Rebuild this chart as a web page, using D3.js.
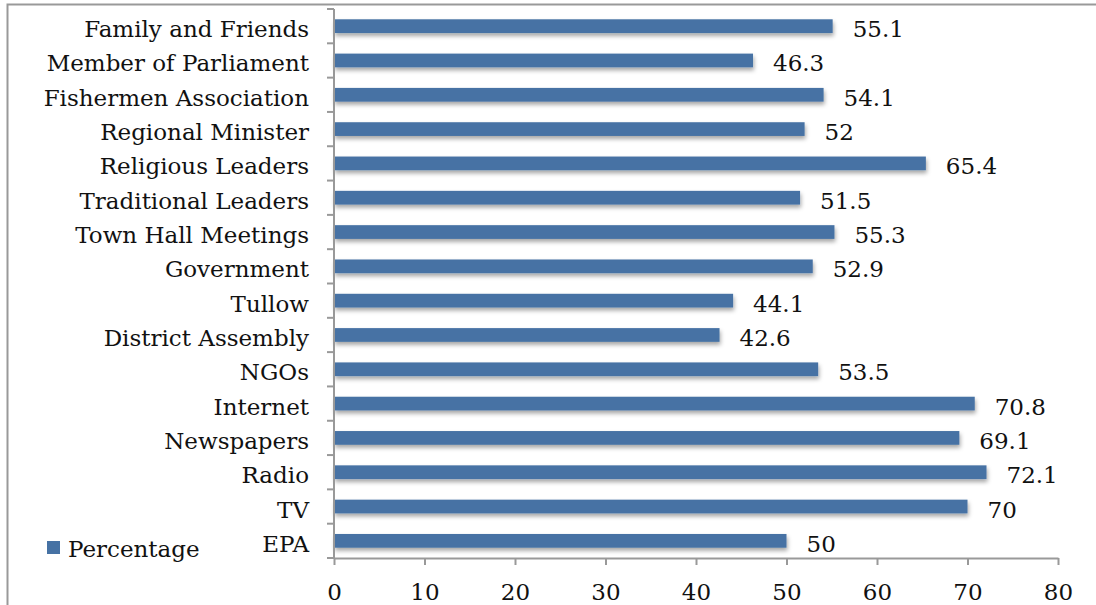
<!DOCTYPE html>
<html>
<head>
<meta charset="utf-8">
<script src="https://cdn.jsdelivr.net/npm/d3@7"></script>
<style>
  html, body { margin: 0; padding: 0; background: #fff; }
  svg { display: block; }
  text { font-family: "DejaVu Serif", serif; fill: #111; }
</style>
</head>
<body>
<svg id="chart" width="1096" height="605"></svg>
<script>
// Information sources and the share of respondents citing each (percent)
const categories = [
  "Family and Friends", "Member of Parliament", "Fishermen Association",
  "Regional Minister", "Religious Leaders", "Traditional Leaders",
  "Town Hall Meetings", "Government", "Tullow", "District Assembly",
  "NGOs", "Internet", "Newspapers", "Radio", "TV", "EPA"
];
const percentages = [
  55.1, 46.3, 54.1, 52, 65.4, 51.5, 55.3, 52.9,
  44.1, 42.6, 53.5, 70.8, 69.1, 72.1, 70, 50
];
const xTicks = [0, 10, 20, 30, 40, 50, 60, 70, 80];
const seriesName = "Percentage";

const data = categories.map((c, i) => ({ category: c, value: percentages[i] }));

const svg = d3.select("#chart");
const barColor = "#4672a4";
const axisColor = "#999";
const fontSize = 23;

// Soft drop shadow under each bar
const defs = svg.append("defs");
const shadow = defs.append("filter").attr("id", "barShadow")
  .attr("x", "-5%").attr("y", "-50%").attr("width", "110%").attr("height", "220%");
shadow.append("feDropShadow")
  .attr("dx", 1).attr("dy", 3).attr("stdDeviation", 2)
  .attr("flood-color", "#000").attr("flood-opacity", 0.35);

// Outer frame (left and top edges)
svg.append("path")
  .attr("d", "M7.5,605 V4.5 H1096")
  .attr("fill", "none").attr("stroke", axisColor).attr("stroke-width", 2);

const plot = { left: 334, right: 1058, top: 9, bottom: 558 };

const x = d3.scaleLinear().domain([0, 80]).range([plot.left, plot.right]);
const y = d3.scaleBand().domain(categories)
  .range([plot.top, plot.bottom])
  .paddingInner(0.6).paddingOuter(0.3);

// Bars
svg.append("g").selectAll("rect").data(data).join("rect")
  .attr("x", x(0))
  .attr("y", d => y(d.category))
  .attr("width", d => x(d.value) - x(0))
  .attr("height", y.bandwidth())
  .attr("fill", barColor)
  .attr("filter", "url(#barShadow)");

// Value labels
svg.append("g").selectAll("text").data(data).join("text")
  .attr("x", d => x(d.value) + 20)
  .attr("y", d => y(d.category) + y.bandwidth() / 2 + 11)
  .attr("font-size", fontSize)
  .text(d => d.value);

// Category axis: line with ticks between categories
const yAxis = svg.append("g");
yAxis.append("line")
  .attr("x1", plot.left).attr("x2", plot.left)
  .attr("y1", plot.top).attr("y2", plot.bottom)
  .attr("stroke", axisColor).attr("stroke-width", 2);
yAxis.selectAll("line.tick").data(d3.range(categories.length + 1)).join("line")
  .attr("class", "tick")
  .attr("x1", plot.left - 7).attr("x2", plot.left)
  .attr("y1", i => plot.top + i * y.step())
  .attr("y2", i => plot.top + i * y.step())
  .attr("stroke", axisColor).attr("stroke-width", 2);
yAxis.selectAll("text").data(categories).join("text")
  .attr("x", 309)
  .attr("y", c => y(c) + y.bandwidth() / 2 + 11)
  .attr("text-anchor", "end")
  .attr("font-size", fontSize)
  .text(c => c);

// Value axis
const xAxis = svg.append("g")
  .attr("transform", `translate(0,${plot.bottom})`)
  .call(d3.axisBottom(x).tickValues(xTicks).tickSize(7).tickSizeOuter(0));
xAxis.select(".domain").attr("stroke", axisColor).attr("stroke-width", 2);
xAxis.selectAll(".tick line").attr("stroke", axisColor).attr("stroke-width", 2);
xAxis.selectAll(".tick text")
  .attr("y", 42).attr("dy", 0)
  .attr("font-size", fontSize)
  .attr("font-family", "DejaVu Serif, serif")
  .attr("fill", "#111");

// Legend
const legend = svg.append("g");
legend.append("rect")
  .attr("x", 47).attr("y", 541).attr("width", 13).attr("height", 13)
  .attr("fill", barColor);
legend.append("text")
  .attr("x", 68).attr("y", 557)
  .attr("font-size", fontSize)
  .text(seriesName);
</script>
</body>
</html>
